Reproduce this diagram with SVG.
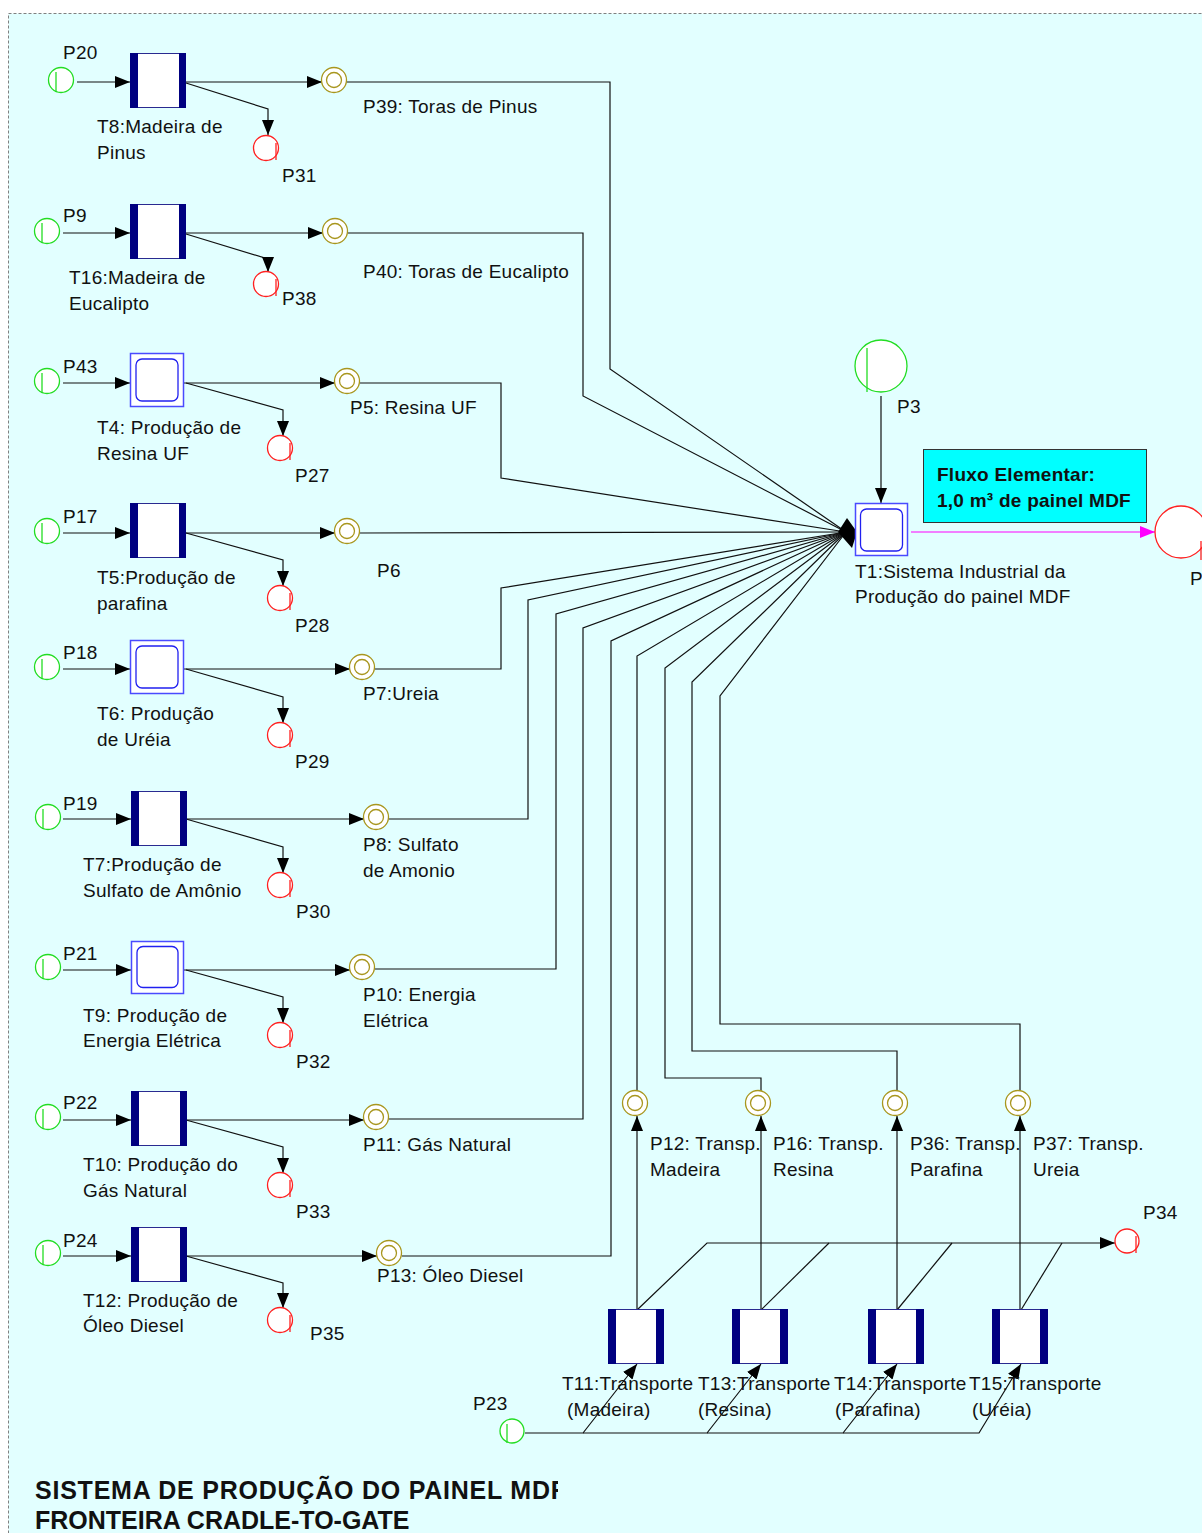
<svg xmlns="http://www.w3.org/2000/svg" width="1202" height="1533" viewBox="0 0 1202 1533">
  <defs>
    <marker id="arr" markerUnits="userSpaceOnUse" markerWidth="15" markerHeight="12" refX="15" refY="6" orient="auto">
      <path d="M0,0 L15,6 L0,12 z" fill="#000"/>
    </marker>
    <marker id="arrM" markerUnits="userSpaceOnUse" markerWidth="15" markerHeight="12" refX="15" refY="6" orient="auto">
      <path d="M0,0 L15,6 L0,12 z" fill="#ff00ff"/>
    </marker>
    <clipPath id="titleClip">
      <rect x="0" y="1460" width="558" height="80"/>
    </clipPath>
  </defs>
  <style>
    text { font-family: "Liberation Sans", Arial, sans-serif; font-size: 19px; fill: #111; letter-spacing: 0.25px; }
    .bold { font-weight: bold; }
    .title { font-weight: bold; font-size: 25px; letter-spacing: 0; }
    .src { fill: #ffffff; stroke: #22dd22; stroke-width: 1.3; }
    .srcmark { stroke: #22dd22; stroke-width: 1.3; }
    .sink { fill: #ffffff; stroke: #ff2020; stroke-width: 1.3; }
    .sinkmark { stroke: #ff2020; stroke-width: 1.3; }
    .mid { fill: #ffffff; stroke: #a8961e; stroke-width: 1.3; }
    .midin { fill: none; stroke: #a8961e; stroke-width: 1.3; }
    .tbox { fill: #ffffff; stroke: #2a2a90; stroke-width: 1; }
    .tbar { fill: #000080; }
    .tout { fill: #ffffff; stroke: #4a4aff; stroke-width: 1.5; }
    .tin { fill: #ffffff; stroke: #2020f0; stroke-width: 1.3; }
    .arc { fill: none; stroke: #111; stroke-width: 1.2; }
    .arcA { fill: none; stroke: #111; stroke-width: 1.2; marker-end: url(#arr); }
    .arcM { fill: none; stroke: #ff00ff; stroke-width: 1.2; marker-end: url(#arrM); }
  </style>

  <!-- canvas -->
  <rect x="0" y="0" width="1202" height="1533" fill="#ffffff"/>
  <rect x="8.5" y="13.5" width="1300" height="1600" fill="#e2ffff" stroke="#808080" stroke-width="1" stroke-dasharray="3,2"/>

  <!-- connectors -->
  <g id="connectors">
    <!-- sources into producing transitions -->
    <path class="arcA" d="M77,82 H130"/>
    <path class="arcA" d="M63,233 H130"/>
    <path class="arcA" d="M63,383 H130"/>
    <path class="arcA" d="M63,533 H130"/>
    <path class="arcA" d="M63,669 H130"/>
    <path class="arcA" d="M63,819 H131"/>
    <path class="arcA" d="M63,970 H131"/>
    <path class="arcA" d="M63,1120 H131"/>
    <path class="arcA" d="M63,1256 H131"/>

    <!-- products -->
    <path class="arcA" d="M185,82 H322"/>
    <path class="arcA" d="M185,233 H323"/>
    <path class="arcA" d="M184,383 H335"/>
    <path class="arcA" d="M185,533 H335"/>
    <path class="arcA" d="M184,669 H350"/>
    <path class="arcA" d="M186,819 H364"/>
    <path class="arcA" d="M184,970 H350"/>
    <path class="arcA" d="M186,1120 H364"/>
    <path class="arcA" d="M186,1256 H377"/>

    <!-- emissions -->
    <path class="arcA" d="M186,83 L268,109 V135"/>
    <path class="arcA" d="M186,234 L268,259 V272"/>
    <path class="arcA" d="M186,383 L283,410 V436"/>
    <path class="arcA" d="M186,533 L283,560 V586"/>
    <path class="arcA" d="M186,669 L283,697 V723"/>
    <path class="arcA" d="M186,819 L283,847 V873"/>
    <path class="arcA" d="M186,970 L283,997 V1023"/>
    <path class="arcA" d="M186,1120 L283,1147 V1173"/>
    <path class="arcA" d="M186,1256 L283,1283 V1308"/>

    <!-- inputs to T1 -->
    <path class="arc" d="M347,82 H610 V369 L846,532"/>
    <path class="arc" d="M348,233 H583 V396 L846,532"/>
    <path class="arc" d="M360,383 H501 V478 L846,532"/>
    <path class="arc" d="M360,533 L846,532"/>
    <path class="arc" d="M375,669 H501 V588 L846,532"/>
    <path class="arc" d="M389,819 H528 V600 L846,532"/>
    <path class="arc" d="M375,969 H556 V614 L846,532"/>
    <path class="arc" d="M389,1119 H583 V628 L846,532"/>
    <path class="arc" d="M402,1256 H611 V641 L846,532"/>
    <path class="arc" d="M637,1091 V656 L846,532"/>
    <path class="arc" d="M761,1091 V1078 H665 V668 L846,532"/>
    <path class="arc" d="M897,1091 V1051 H692 V682 L846,532"/>
    <path class="arc" d="M1020,1091 V1024 H720 V696 L846,532"/>
    <polygon points="838,532 847,518 857,532 852,548" fill="#000"/>

    <path class="arcA" d="M881,396 V503"/>
    <path class="arcM" d="M911,532 H1155"/>

    <!-- transport -->
    <path class="arcA" d="M637,1309 V1116"/>
    <path class="arcA" d="M761,1309 V1116"/>
    <path class="arcA" d="M897,1309 V1116"/>
    <path class="arcA" d="M1020,1309 V1116"/>

    <path class="arc" d="M761,1310 L829,1243"/>
    <path class="arc" d="M897,1310 L952,1243"/>
    <path class="arc" d="M1021,1310 L1062,1243"/>
    <path class="arcA" d="M637,1310 L707,1243 H1115"/>

    <path class="arcA" d="M525,1433 H583 L637,1364"/>
    <path class="arcA" d="M583,1433 H707 L761,1364"/>
    <path class="arcA" d="M707,1433 H843 L897,1364"/>
    <path class="arcA" d="M843,1433 H979 L1021,1364"/>
  </g>

  <!-- row 1 -->
  <g id="P20"><circle class="src" cx="61" cy="80" r="12.5"/><line class="srcmark" x1="56" y1="72" x2="56" y2="92"/><text x="63" y="59">P20</text></g>
  <g id="T8"><rect class="tbox" x="130.5" y="53.5" width="55" height="54"/><rect class="tbar" x="130" y="53" width="8" height="55"/><rect class="tbar" x="179" y="53" width="7" height="55"/><text x="97" y="133">T8:Madeira de</text><text x="97" y="159">Pinus</text></g>
  <g id="P39"><circle class="mid" cx="334" cy="80" r="12.5"/><circle class="midin" cx="334" cy="80" r="7.5"/><text x="363" y="113">P39: Toras de Pinus</text></g>
  <g id="P31"><circle class="sink" cx="266" cy="148" r="12.5"/><line class="sinkmark" x1="276" y1="143" x2="276" y2="160"/><text x="282" y="182">P31</text></g>

  <!-- row 2 -->
  <g id="P9"><circle class="src" cx="47" cy="231" r="12.5"/><line class="srcmark" x1="42" y1="223" x2="42" y2="243"/><text x="63" y="222">P9</text></g>
  <g id="T16"><rect class="tbox" x="130.5" y="204.5" width="55" height="54"/><rect class="tbar" x="130" y="204" width="8" height="55"/><rect class="tbar" x="179" y="204" width="7" height="55"/><text x="69" y="284">T16:Madeira de</text><text x="69" y="310">Eucalipto</text></g>
  <g id="P40"><circle class="mid" cx="335" cy="231" r="12.5"/><circle class="midin" cx="335" cy="231" r="7.5"/><text x="363" y="278">P40: Toras de Eucalipto</text></g>
  <g id="P38"><circle class="sink" cx="266" cy="284" r="12.5"/><line class="sinkmark" x1="276" y1="279" x2="276" y2="296"/><text x="282" y="305">P38</text></g>

  <!-- row 3 -->
  <g id="P43"><circle class="src" cx="47" cy="381" r="12.5"/><line class="srcmark" x1="42" y1="373" x2="42" y2="393"/><text x="63" y="373">P43</text></g>
  <g id="T4"><rect class="tout" x="130.5" y="353.5" width="53" height="53"/><rect class="tin" x="136" y="359" width="42" height="42" rx="6"/><text x="97" y="434">T4: Produção de</text><text x="97" y="460">Resina UF</text></g>
  <g id="P5"><circle class="mid" cx="347" cy="381" r="12.5"/><circle class="midin" cx="347" cy="381" r="7.5"/><text x="350" y="414">P5: Resina UF</text></g>
  <g id="P27"><circle class="sink" cx="280" cy="448" r="12.5"/><line class="sinkmark" x1="290" y1="443" x2="290" y2="460"/><text x="295" y="482">P27</text></g>

  <!-- row 4 -->
  <g id="P17"><circle class="src" cx="47" cy="531" r="12.5"/><line class="srcmark" x1="42" y1="523" x2="42" y2="543"/><text x="63" y="523">P17</text></g>
  <g id="T5"><rect class="tbox" x="130.5" y="503.5" width="55" height="54"/><rect class="tbar" x="130" y="503" width="8" height="55"/><rect class="tbar" x="179" y="503" width="7" height="55"/><text x="97" y="584">T5:Produção de</text><text x="97" y="610">parafina</text></g>
  <g id="P6"><circle class="mid" cx="347" cy="531" r="12.5"/><circle class="midin" cx="347" cy="531" r="7.5"/><text x="377" y="577">P6</text></g>
  <g id="P28"><circle class="sink" cx="280" cy="598" r="12.5"/><line class="sinkmark" x1="290" y1="593" x2="290" y2="610"/><text x="295" y="632">P28</text></g>

  <!-- row 5 -->
  <g id="P18"><circle class="src" cx="47" cy="667" r="12.5"/><line class="srcmark" x1="42" y1="659" x2="42" y2="679"/><text x="63" y="659">P18</text></g>
  <g id="T6"><rect class="tout" x="130.5" y="640.5" width="53" height="53"/><rect class="tin" x="136" y="646" width="42" height="42" rx="6"/><text x="97" y="720">T6: Produção</text><text x="97" y="746">de Uréia</text></g>
  <g id="P7"><circle class="mid" cx="362" cy="667" r="12.5"/><circle class="midin" cx="362" cy="667" r="7.5"/><text x="363" y="700">P7:Ureia</text></g>
  <g id="P29"><circle class="sink" cx="280" cy="735" r="12.5"/><line class="sinkmark" x1="290" y1="730" x2="290" y2="747"/><text x="295" y="768">P29</text></g>

  <!-- row 6 -->
  <g id="P19"><circle class="src" cx="48" cy="817" r="12.5"/><line class="srcmark" x1="43" y1="809" x2="43" y2="829"/><text x="63" y="810">P19</text></g>
  <g id="T7"><rect class="tbox" x="131.5" y="791.5" width="55" height="54"/><rect class="tbar" x="131" y="791" width="8" height="55"/><rect class="tbar" x="180" y="791" width="7" height="55"/><text x="83" y="871">T7:Produção de</text><text x="83" y="897">Sulfato de Amônio</text></g>
  <g id="P8"><circle class="mid" cx="376" cy="817" r="12.5"/><circle class="midin" cx="376" cy="817" r="7.5"/><text x="363" y="851">P8: Sulfato</text><text x="363" y="877">de Amonio</text></g>
  <g id="P30"><circle class="sink" cx="280" cy="885" r="12.5"/><line class="sinkmark" x1="290" y1="880" x2="290" y2="897"/><text x="296" y="918">P30</text></g>

  <!-- row 7 -->
  <g id="P21"><circle class="src" cx="48" cy="967" r="12.5"/><line class="srcmark" x1="43" y1="959" x2="43" y2="979"/><text x="63" y="960">P21</text></g>
  <g id="T9"><rect class="tout" x="131.5" y="941.5" width="52" height="52"/><rect class="tin" x="137" y="946.5" width="41" height="41" rx="6"/><text x="83" y="1022">T9: Produção de</text><text x="83" y="1047">Energia Elétrica</text></g>
  <g id="P10"><circle class="mid" cx="362" cy="967" r="12.5"/><circle class="midin" cx="362" cy="967" r="7.5"/><text x="363" y="1001">P10: Energia</text><text x="363" y="1027">Elétrica</text></g>
  <g id="P32"><circle class="sink" cx="280" cy="1035" r="12.5"/><line class="sinkmark" x1="290" y1="1030" x2="290" y2="1047"/><text x="296" y="1068">P32</text></g>

  <!-- row 8 -->
  <g id="P22"><circle class="src" cx="48" cy="1117" r="12.5"/><line class="srcmark" x1="43" y1="1109" x2="43" y2="1129"/><text x="63" y="1109">P22</text></g>
  <g id="T10"><rect class="tbox" x="131.5" y="1091.5" width="55" height="54"/><rect class="tbar" x="131" y="1091" width="8" height="55"/><rect class="tbar" x="180" y="1091" width="7" height="55"/><text x="83" y="1171">T10: Produção do</text><text x="83" y="1197">Gás Natural</text></g>
  <g id="P11"><circle class="mid" cx="376" cy="1117" r="12.5"/><circle class="midin" cx="376" cy="1117" r="7.5"/><text x="363" y="1151">P11: Gás Natural</text></g>
  <g id="P33"><circle class="sink" cx="280" cy="1185" r="12.5"/><line class="sinkmark" x1="290" y1="1180" x2="290" y2="1197"/><text x="296" y="1218">P33</text></g>

  <!-- row 9 -->
  <g id="P24"><circle class="src" cx="48" cy="1253" r="12.5"/><line class="srcmark" x1="43" y1="1245" x2="43" y2="1265"/><text x="63" y="1247">P24</text></g>
  <g id="T12"><rect class="tbox" x="131.5" y="1227.5" width="55" height="54"/><rect class="tbar" x="131" y="1227" width="8" height="55"/><rect class="tbar" x="180" y="1227" width="7" height="55"/><text x="83" y="1307">T12: Produção de</text><text x="83" y="1332">Óleo Diesel</text></g>
  <g id="P13"><circle class="mid" cx="389" cy="1253" r="12.5"/><circle class="midin" cx="389" cy="1253" r="7.5"/><text x="377" y="1282">P13: Óleo Diesel</text></g>
  <g id="P35"><circle class="sink" cx="280" cy="1320" r="12.5"/><line class="sinkmark" x1="290" y1="1315" x2="290" y2="1332"/><text x="310" y="1340">P35</text></g>

  <!-- central industrial system -->
  <g id="P3"><circle class="src" cx="881" cy="366" r="26"/><line class="srcmark" x1="867" y1="348" x2="867" y2="392"/><text x="897" y="413">P3</text></g>
  <g id="T1"><rect class="tout" x="855.5" y="503.5" width="52" height="52"/><rect class="tin" x="860.5" y="509" width="42" height="42" rx="6"/><text x="855" y="578">T1:Sistema Industrial da</text><text x="855" y="603">Produção do painel MDF</text></g>
  <g id="note"><rect x="923.5" y="449.5" width="223" height="73" fill="#00ffff" stroke="#333" stroke-width="1"/><text class="bold" x="937" y="481">Fluxo Elementar:</text><text class="bold" x="937" y="507">1,0 m³ de painel MDF</text></g>
  <g id="P2"><circle class="sink" cx="1181" cy="532" r="26"/><line class="sinkmark" x1="1201" y1="541" x2="1201" y2="560"/><text x="1190" y="585">P</text></g>

  <!-- transport places -->
  <g id="P12"><circle class="mid" cx="635" cy="1103" r="12.5"/><circle class="midin" cx="635" cy="1103" r="7.5"/><text x="650" y="1150">P12: Transp.</text><text x="650" y="1176">Madeira</text></g>
  <g id="P16"><circle class="mid" cx="758" cy="1103" r="12.5"/><circle class="midin" cx="758" cy="1103" r="7.5"/><text x="773" y="1150">P16: Transp.</text><text x="773" y="1176">Resina</text></g>
  <g id="P36"><circle class="mid" cx="895" cy="1103" r="12.5"/><circle class="midin" cx="895" cy="1103" r="7.5"/><text x="910" y="1150">P36: Transp.</text><text x="910" y="1176">Parafina</text></g>
  <g id="P37"><circle class="mid" cx="1018" cy="1103" r="12.5"/><circle class="midin" cx="1018" cy="1103" r="7.5"/><text x="1033" y="1150">P37: Transp.</text><text x="1033" y="1176">Ureia</text></g>
  <g id="P34"><circle class="sink" cx="1127" cy="1241" r="12"/><line class="sinkmark" x1="1136" y1="1236" x2="1136" y2="1253"/><text x="1143" y="1219">P34</text></g>
  <g id="P23"><circle class="src" cx="512" cy="1431" r="12"/><line class="srcmark" x1="507" y1="1424" x2="507" y2="1443"/><text x="473" y="1410">P23</text></g>

  <!-- transport transitions -->
  <g id="T11"><rect class="tbox" x="608.5" y="1309.5" width="55" height="54"/><rect class="tbar" x="608" y="1309" width="8" height="55"/><rect class="tbar" x="656" y="1309" width="8" height="55"/><text x="562" y="1390">T11:Transporte</text><text x="567" y="1416">(Madeira)</text></g>
  <g id="T13"><rect class="tbox" x="732.5" y="1309.5" width="55" height="54"/><rect class="tbar" x="732" y="1309" width="8" height="55"/><rect class="tbar" x="780" y="1309" width="8" height="55"/><text x="698" y="1390">T13:Transporte</text><text x="698" y="1416">(Resina)</text></g>
  <g id="T14"><rect class="tbox" x="868.5" y="1309.5" width="55" height="54"/><rect class="tbar" x="868" y="1309" width="8" height="55"/><rect class="tbar" x="916" y="1309" width="8" height="55"/><text x="834" y="1390">T14:Transporte</text><text x="835" y="1416">(Parafina)</text></g>
  <g id="T15"><rect class="tbox" x="992.5" y="1309.5" width="55" height="54"/><rect class="tbar" x="992" y="1309" width="8" height="55"/><rect class="tbar" x="1040" y="1309" width="8" height="55"/><text x="969" y="1390">T15:Transporte</text><text x="972" y="1416">(Uréia)</text></g>

  <!-- heading -->
  <g id="heading" clip-path="url(#titleClip)">
    <text class="title" x="35" y="1499" textLength="531" lengthAdjust="spacing">SISTEMA DE PRODUÇÃO DO PAINEL MDF</text>
    <text class="title" x="35" y="1529">FRONTEIRA CRADLE-TO-GATE</text>
  </g>
</svg>
